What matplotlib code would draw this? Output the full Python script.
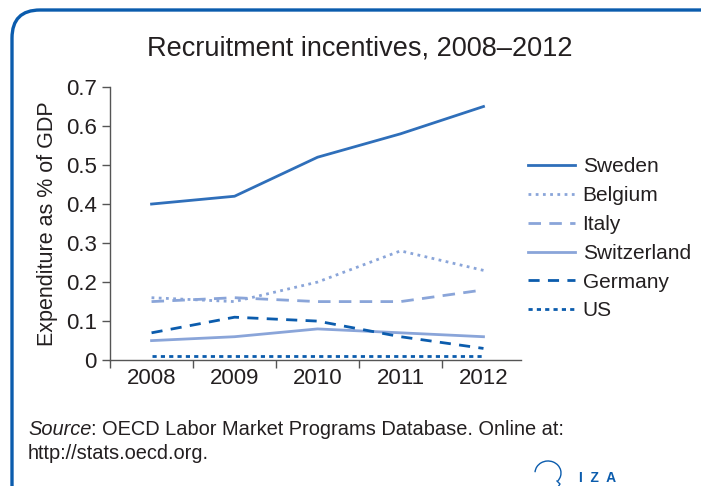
import matplotlib.pyplot as plt
from matplotlib.patches import FancyBboxPatch, Arc

plt.rcParams['font.family'] = ['Liberation Sans', 'DejaVu Sans']

# Dados
anos = ['2008', '2009', '2010', '2011', '2012']
sweden = [0.40, 0.42, 0.52, 0.58, 0.65]
belgium = [0.16, 0.15, 0.20, 0.28, 0.23]
italy = [0.15, 0.16, 0.15, 0.15, 0.18]
switzerland = [0.05, 0.06, 0.08, 0.07, 0.06]
germany = [0.07, 0.11, 0.10, 0.06, 0.03]
us = [0.01, 0.01, 0.01, 0.01, 0.01]
yticks = [0, 0.1, 0.2, 0.3, 0.4, 0.5, 0.6, 0.7]

AZUL = '#0b5cad'
AZUL_MEDIO = '#2f6fba'
AZUL_CLARO = '#8aa5d9'
CINZA = '#555555'
TEXTO = '#231f20'

fig = plt.figure(figsize=(7.01, 4.86), dpi=100)
ax = fig.add_axes([0.157, 0.259, 0.586, 0.562])

xs = [i + 0.5 for i in range(len(anos))]
ax.plot(xs, sweden, color=AZUL_MEDIO, lw=2.0, label='Sweden')
ax.plot(xs, belgium, color=AZUL_CLARO, lw=2.0, ls=(0, (1, 1.6)), label='Belgium')
ax.plot(xs, italy, color=AZUL_CLARO, lw=2.0, ls=(0, (4.5, 3)), label='Italy')
ax.plot(xs, switzerland, color=AZUL_CLARO, lw=2.0, label='Switzerland')
ax.plot(xs, germany, color=AZUL, lw=2.0, ls=(0, (4, 3)), label='Germany')
ax.plot(xs, us, color=AZUL, lw=2.0, ls=(0, (1.5, 1.5)), label='US')

ax.set_xlim(0, 4.95)
ax.set_ylim(0, 0.7)
ax.set_xticks(range(len(anos)))
ax.set_xticklabels([])
ax.set_xticks(xs, minor=True)
ax.set_xticklabels(anos, minor=True)
ax.tick_params(axis='x', which='major', length=6, color=CINZA, width=1)
ax.tick_params(axis='x', which='minor', length=0, labelsize=16, pad=6, labelcolor=TEXTO)
ax.set_yticks(yticks)
ax.set_yticklabels(['0'] + [f'{v:.1f}' for v in yticks[1:]])
ax.tick_params(axis='y', length=6, color=CINZA, width=1, labelsize=16, labelcolor=TEXTO)
for lado in ['top', 'right']:
    ax.spines[lado].set_visible(False)
for lado in ['left', 'bottom']:
    ax.spines[lado].set_color(CINZA)
    ax.spines[lado].set_linewidth(1)
ax.set_ylabel('Expenditure as % of GDP', fontsize=15.5, color=TEXTO, labelpad=6)

ax.legend(loc='upper left', bbox_to_anchor=(0.993, 0.78), frameon=False, fontsize=15,
          handlelength=2.25, handletextpad=0.35, labelspacing=0.47, borderpad=0,
          labelcolor=TEXTO)

fig.text(0.513, 0.9, 'Recruitment incentives, 2008\u20132012', ha='center', va='center',
         fontsize=19.5, color=TEXTO)

# Fonte (itálico + resto na mesma linha)
t1 = fig.text(0.040, 0.116, 'Source', style='italic', fontsize=14.4, color=TEXTO, va='center')
renderer = fig.canvas.get_renderer()
largura = t1.get_window_extent(renderer).width / fig.bbox.width
fig.text(0.040 + largura, 0.116, ': OECD Labor Market Programs Database. Online at:',
         fontsize=14.4, color=TEXTO, va='center')
fig.text(0.040, 0.066, 'http://stats.oecd.org.', fontsize=14.4, color=TEXTO, va='center')

# Moldura arredondada
moldura = FancyBboxPatch((12 / 701, -30 / 486), 720 / 701, 506 / 486,
                         boxstyle='round,pad=0,rounding_size=0.04',
                         transform=fig.transFigure, fill=False, ec=AZUL, lw=2.4,
                         mutation_aspect=701 / 486, clip_on=False)
fig.patches.append(moldura)

# Logo IZA
arco = Arc((548 / 701, 1 - 473 / 486), 26 / 701, 24 / 486, theta1=-50, theta2=175,
           transform=fig.transFigure, color=AZUL, lw=1)
fig.patches.append(arco)
fig.lines.append(plt.Line2D([557 / 701, 560 / 701, 558 / 701], [1 - 481 / 486, 1 - 484 / 486, 1 - 487 / 486],
                            transform=fig.transFigure, color=AZUL, lw=1))
fig.text(598 / 701, 1 - 478 / 486, 'I  Z  A', ha='center', va='center', fontsize=10,
         color=AZUL, fontweight='bold')

fig.savefig('out.png', dpi=100)
